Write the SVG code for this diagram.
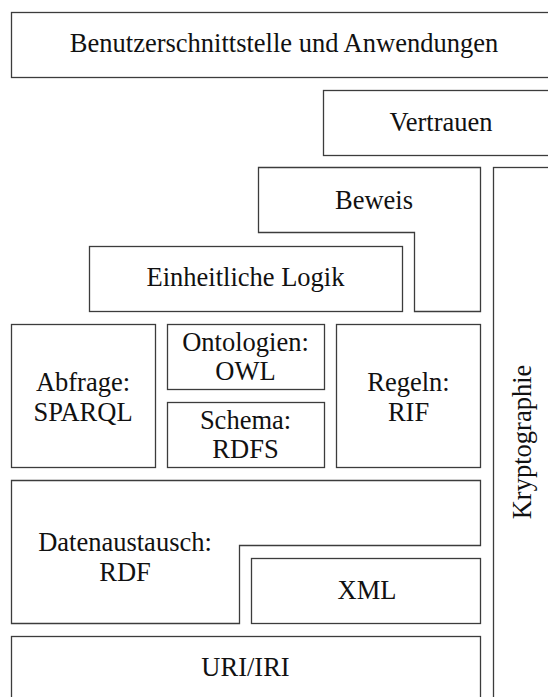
<svg xmlns="http://www.w3.org/2000/svg" width="548" height="697" viewBox="0 0 548 697">
  <style>
    .box { fill: #ffffff; stroke: #3c3c3c; stroke-width: 1.3; }
    .lbl { font-family: "Liberation Serif", "DejaVu Serif", serif; font-size: 26.5px; fill: #111111; text-anchor: middle; }
  </style>
  <rect x="0" y="0" width="548" height="697" fill="#ffffff"/>

  <!-- application layer -->
  <g id="node-ui">
    <rect class="box" x="11.5" y="12.5" width="560" height="65"/>
    <text class="lbl" x="284" y="52">Benutzerschnittstelle und Anwendungen</text>
  </g>

  <g id="node-trust">
    <rect class="box" x="323.5" y="90.5" width="240" height="65"/>
    <text class="lbl" x="441" y="131">Vertrauen</text>
  </g>

  <g id="node-proof">
    <polygon class="box" points="258.5,167.5 480.5,167.5 480.5,311.5 414.5,311.5 414.5,232.5 258.5,232.5"/>
    <text class="lbl" x="374" y="209">Beweis</text>
  </g>

  <!-- vertical crypto column -->
  <g id="node-crypto">
    <rect class="box" x="493.5" y="167.5" width="80" height="560"/>
    <text class="lbl" transform="translate(531 442) rotate(-90)" x="0" y="0">Kryptographie</text>
  </g>

  <g id="node-logic">
    <rect class="box" x="89.5" y="246.5" width="313" height="65"/>
    <text class="lbl" x="245.5" y="286">Einheitliche Logik</text>
  </g>

  <!-- query / ontology / rules row -->
  <g id="node-query">
    <rect class="box" x="11.5" y="324.5" width="144" height="143"/>
    <text class="lbl" x="83" y="391">Abfrage:</text>
    <text class="lbl" x="83" y="421">SPARQL</text>
  </g>

  <g id="node-ontology">
    <rect class="box" x="167.5" y="324.5" width="157" height="65"/>
    <text class="lbl" x="245.5" y="351">Ontologien:</text>
    <text class="lbl" x="245.5" y="380">OWL</text>
  </g>

  <g id="node-schema">
    <rect class="box" x="167.5" y="402.5" width="157" height="65"/>
    <text class="lbl" x="245.5" y="429">Schema:</text>
    <text class="lbl" x="245.5" y="458">RDFS</text>
  </g>

  <g id="node-rules">
    <rect class="box" x="336.5" y="324.5" width="144" height="143"/>
    <text class="lbl" x="408.5" y="391">Regeln:</text>
    <text class="lbl" x="408.5" y="421">RIF</text>
  </g>

  <!-- data interchange and syntax -->
  <g id="node-rdf">
    <polygon class="box" points="11.5,480.5 480.5,480.5 480.5,545.5 239.5,545.5 239.5,623.5 11.5,623.5"/>
    <text class="lbl" x="125" y="551">Datenaustausch:</text>
    <text class="lbl" x="125" y="581">RDF</text>
  </g>

  <g id="node-xml">
    <rect class="box" x="251.5" y="558.5" width="229" height="65"/>
    <text class="lbl" x="367" y="599">XML</text>
  </g>

  <g id="node-uri">
    <rect class="box" x="11.5" y="636.5" width="469" height="80"/>
    <text class="lbl" x="245.5" y="676">URI/IRI</text>
  </g>
</svg>
